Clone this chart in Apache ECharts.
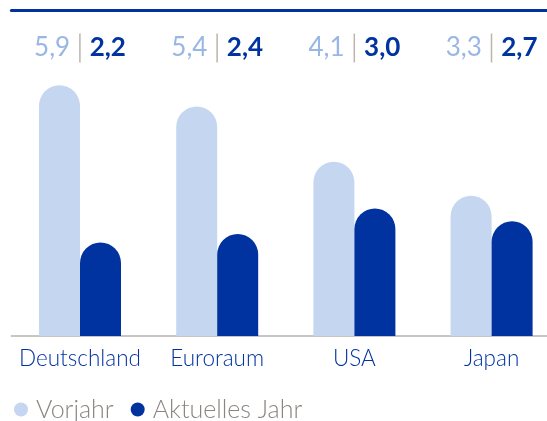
<!DOCTYPE html>
<html>
<head>
<meta charset="utf-8">
<script src="https://cdn.jsdelivr.net/npm/echarts@6/dist/echarts.min.js"></script>
<style>
  html, body { margin: 0; padding: 0; background: #fff; }
  #chart { width: 547px; height: 421px; }
</style>
</head>
<body>
<div id="chart"></div>
<script>
// Daten
var categories = ['Deutschland', 'Euroraum', 'USA', 'Japan']
var vorjahr = [5.9, 5.4, 4.1, 3.3]
var aktuell = [2.2, 2.4, 3.0, 2.7]
var seriesNames = ['Vorjahr', 'Aktuelles Jahr']

var hell = '#c5d6f1'
var dunkel = '#0033a0'

function fmt (v) {
  return v.toFixed(1).replace('.', ',')
}

var chart = echarts.init(document.getElementById('chart'))
chart.setOption({
  animation: false,
  textStyle: { fontFamily: 'Lato' },
  grid: { left: 11.4, width: 548.8, top: 81, bottom: 85, outerBoundsMode: 'none', containLabel: false },
  legend: {
    data: seriesNames,
    left: 9,
    top: 392,
    icon: 'circle',
    itemWidth: 14,
    itemHeight: 14,
    itemGap: 17,
    textStyle: { fontSize: 25, color: '#8a8580', fontFamily: 'Lato', fontWeight: 300, padding: [0, 0, 0, 3] }
  },
  xAxis: [
    {
      type: 'category',
      data: categories,
      axisLine: { lineStyle: { color: '#b8b2ac', width: 1.5 } },
      axisTick: { show: false },
      axisLabel: { interval: 0, color: '#0033a0', fontSize: 22.5, fontFamily: 'Lato', fontWeight: 300, margin: 11 }
    },
    {
      type: 'category',
      data: categories,
      position: 'top',
      offset: 70.5,
      axisLine: { lineStyle: { color: dunkel, width: 3 } },
      axisTick: { show: false },
      axisLabel: {
        interval: 0,
        inside: true,
        margin: 23,
        formatter: function (v, i) {
          return '{a|' + fmt(vorjahr[i]) + '}{s|}{b|' + fmt(aktuell[i]) + '}'
        },
        rich: {
          a: { color: '#9ab6e4', fontSize: 26, fontFamily: 'Lato', padding: [0, 9, 0, 0] },
          s: { width: 1.5, height: 29, backgroundColor: '#bdb5ad' },
          b: { color: dunkel, fontSize: 26, fontFamily: 'Lato', fontWeight: 'bold', padding: [0, 0, 0, 9] }
        }
      }
    }
  ],
  yAxis: {
    type: 'value',
    min: 0,
    max: 6,
    show: false,
    splitLine: { show: false }
  },
  series: [
    {
      name: seriesNames[0],
      type: 'bar',
      data: vorjahr,
      barWidth: 41,
      barGap: 0,
      itemStyle: { color: hell, borderRadius: [20.5, 20.5, 0, 0] }
    },
    {
      name: seriesNames[1],
      type: 'bar',
      data: aktuell,
      barWidth: 41,
      barGap: 0,
      itemStyle: { color: dunkel, borderRadius: [20.5, 20.5, 0, 0] }
    }
  ]
})
</script>
</body>
</html>
